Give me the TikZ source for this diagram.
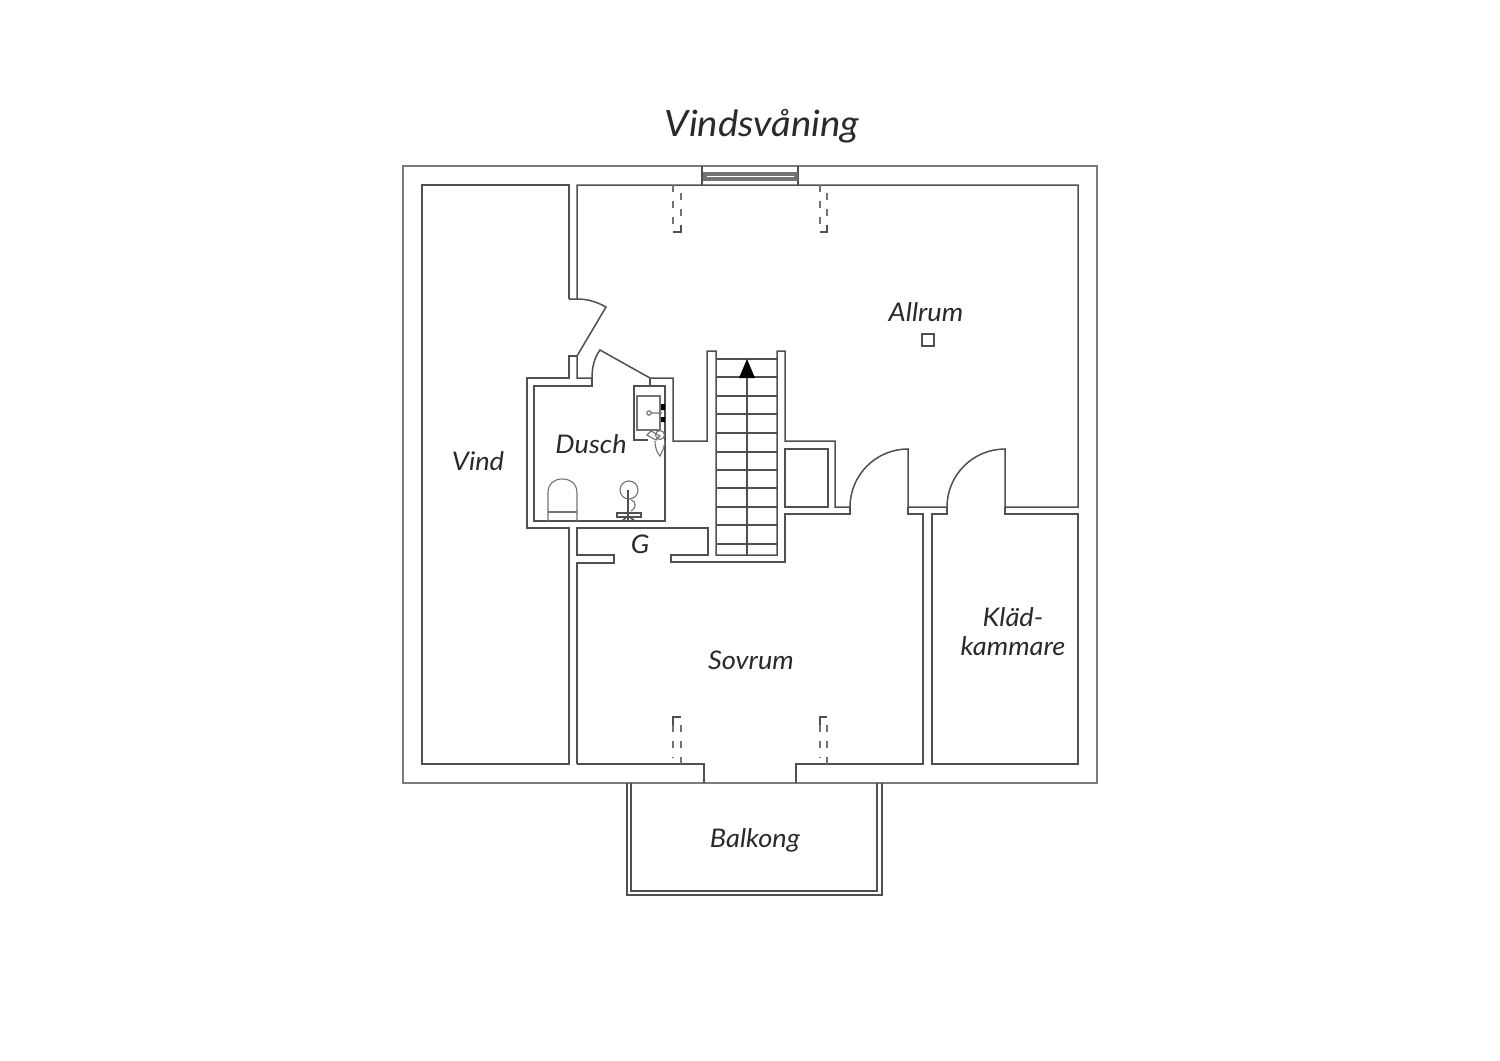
\documentclass[tikz,border=0pt]{standalone}
\usepackage{fontspec}
\setmainfont[FakeStretch=1.06]{Lato}
\definecolor{wallcol}{HTML}{505050}
\definecolor{textcol}{HTML}{2A2A2A}
\tikzset{
  wall/.style={line width=0.43pt, color=wallcol, line join=miter},
  roof/.style={line width=0.4pt, color=wallcol!75},
  thin wall/.style={line width=0.32pt, color=wallcol!80},
  hidden/.style={line width=0.43pt, color=wallcol!80, dash pattern=on 2pt off 2.54pt},
  room/.style={font=\fontsize{7.3}{8.2}\selectfont\itshape, text=textcol, inner sep=0pt, align=center}
}
\begin{document}
\begin{tikzpicture}[x=0.01cm, y=-0.01cm]
  \useasboundingbox (0,0) rectangle (1500,1060);
  % outer roof line and balcony
  \draw[roof] (403,166) rectangle (1097,783);
  \draw[wall] (627,783) -- (627,895) -- (882,895) -- (882,783);
  \draw[wall] (631,783) -- (631,891) -- (877,891) -- (877,783);
  % window
  \draw[wall] (702,166) -- (702,185) (798,166) -- (798,185);
  \draw[thin wall] (704,173) rectangle (797,180);
  \draw[thin wall] (706,175) -- (795,175) (706,178) -- (795,178) (706,173) -- (706,180) (795,173) -- (795,180);
  % vind
  \draw[wall] (569,299) -- (569,185) -- (422,185) -- (422,764) -- (569,764) -- (569,528) -- (527,528) -- (527,378) -- (569,378) -- (569,356) -- (577,356);
  % allrum
  \draw[wall] (577,356) -- (606,307) .. controls (597,302) and (588,299) .. (577,299) -- (569,299);
  \draw[wall] (577,299) -- (577,185) -- (1078,185) -- (1078,507) -- (1005,507) -- (1005,449)
    .. controls (973,449) and (947,475) .. (947,507) -- (908,507) -- (908,449)
    .. controls (876,449) and (850,475) .. (850,507) -- (835,507) -- (835,441) -- (785,441) -- (785,351) -- (777,351) -- (777,555) -- (716,555) -- (716,351) -- (707,351) -- (707,441) -- (673,441) -- (673,378) -- (650,378) -- (600,350)
    .. controls (594,358) and (592,368) .. (592,378) -- (577,378) -- (577,356);
  % dusch
  \draw[wall] (592,378) -- (592,386) -- (534,386) -- (534,521) -- (665,521) -- (665,386) -- (650,386) -- (650,378);
  \draw[wall] (650,386) -- (634,386) -- (634,440) -- (648,440);
  \draw[thin wall] (637,396) rectangle (660,430);
  \draw[thin wall] (649,413) circle (2.2) (651,413) -- (662,413);
  \fill[black] (661,404) rectangle (665,410) (661,417) rectangle (665,422);
  \draw[thin wall] (647,435) -- (651,431) -- (660,436) -- (656,440) -- cycle;
  \draw[thin wall] (660,435) circle (4.5);
  \draw[thin wall] (655,441) .. controls (655,449) and (658,454) .. (660,456) .. controls (662,452) and (665,446) .. (665,440);
  \draw[thin wall] (548,521) -- (548,493) .. controls (548,484) and (554,479) .. (562,479) .. controls (571,479) and (577,484) .. (577,493) -- (577,521);
  \draw[thin wall] (548,512) -- (577,512);
  \draw[thin wall] (629,490) circle (9);
  \draw[wall, line width=0.7pt] (628,490) -- (628,521);
  \draw[thin wall] (631,500) .. controls (637,501) and (636,509) .. (631,511);
  \draw[wall] (617,513) -- (641,513) -- (641,517) -- (617,517) -- cycle;
  \draw[wall] (622,521) -- (628,516) -- (635,521);
  % stairs
  \foreach \y in {359,377,396,414,433,452,470,488,507,525,544}
    \draw[wall] (716,\y) -- (777,\y);
  \draw[wall] (747,377) -- (747,555);
  \fill[black] (747,359) -- (755,378) -- (739,378) -- cycle;
  % gang and sovrum
  \draw[wall] (577,764) -- (577,563) -- (614,563) -- (614,555) -- (577,555) -- (577,528) -- (708,528) -- (708,555) -- (671,555) -- (671,562) -- (785,562) -- (785,514) -- (850,514) -- (850,507);
  \draw[wall] (577,764) -- (704,764) -- (704,783);
  \draw[wall] (796,783) -- (796,764) -- (923,764) -- (923,514) -- (908,514) -- (908,507);
  \draw[wall] (785,449) rectangle (828,507);
  % kladkammare
  \draw[wall] (947,507) -- (947,514) -- (932,514) -- (932,764) -- (1078,764) -- (1078,514) -- (1005,514) -- (1005,507);
  % pelare
  \draw[wall] (922,334) rectangle (934,346);
  % dashed roof windows
  \foreach \x/\u in {673/681,820/827}{
    \draw[hidden] (\x,185) -- (\x,225);
    \draw[hidden] (\u,193) -- (\u,225);
    \draw[wall] (\u,225) -- (\u,232) -- (\x,232);
    \draw[hidden] (\x,725) -- (\x,757);
    \draw[hidden] (\u,764) -- (\u,725);
    \draw[wall] (\x,725) -- (\x,717) -- (\u,717);
  }
  % labels
  \node[room, font=\fontsize{10.3}{12}\selectfont\itshape] (title) at (762,126) {Vindsvåning};
  \node[room] (allrum) at (926,312) {Allrum};
  \node[room] (dusch) at (591,444) {Dusch};
  \node[room] (vind) at (478,461) {Vind};
  \node[room] (g) at (640,544) {G};
  \node[room] (sovrum) at (751,660) {Sovrum};
  \node[room] (klad) at (1013,632) {Kläd-\\kammare};
  \node[room] (balkong) at (755,840) {Balkong};
\end{tikzpicture}
\end{document}
